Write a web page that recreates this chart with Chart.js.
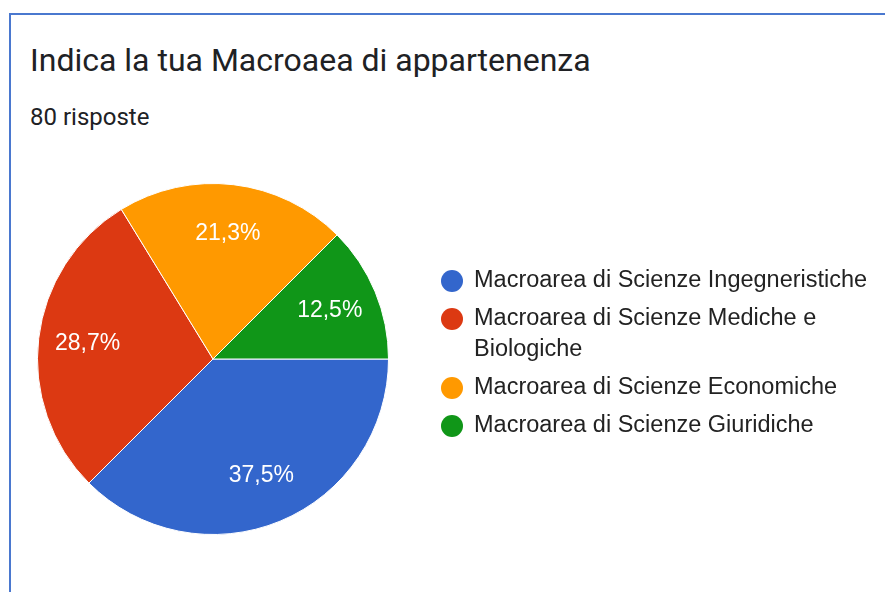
<!DOCTYPE html>
<html>
<head>
<meta charset="utf-8">
<script src="https://cdn.jsdelivr.net/npm/chart.js@4/dist/chart.umd.min.js"></script>
<style>
  body { margin: 0; background: #fff; }
  #wrap { position: relative; width: 885px; height: 592px; overflow: hidden; }
  #box { position: absolute; left: 9px; top: 13px; width: 900px; height: 600px;
         border-left: 2px solid #4a78cf; border-top: 2px solid #4a78cf; }
  #titolo { position: absolute; left: 30px; top: 41px; font: 32px Roboto, sans-serif; color: #202124; }
  #sotto { position: absolute; left: 30px; top: 103px; font: 24px Roboto, sans-serif; color: #202124; }
  canvas { position: absolute; left: 0; top: 0; }
</style>
</head>
<body>
<div id="wrap">
  <div id="box"></div>
  <div id="titolo">Indica la tua Macroaea di appartenenza</div>
  <div id="sotto">80 risposte</div>
  <canvas id="grafica" width="885" height="592"></canvas>
</div>
<script>
const macroaree = [
  "Macroarea di Scienze Ingegneristiche",
  "Macroarea di Scienze Mediche e Biologiche",
  "Macroarea di Scienze Economiche",
  "Macroarea di Scienze Giuridiche"
];
const risposte = [30, 23, 17, 10];
const colori = ["#3366cc", "#dc3912", "#ff9900", "#109618"];

// etichette percentuali dentro le fette
const etichette = {
  id: 'etichette',
  afterDatasetsDraw(chart) {
    const ctx = chart.ctx;
    const tot = risposte.reduce((a, b) => a + b, 0);
    ctx.save();
    ctx.fillStyle = '#fff';
    ctx.font = '23px "Liberation Sans", Arial, sans-serif';
    ctx.textAlign = 'center';
    ctx.textBaseline = 'middle';
    chart.getDatasetMeta(0).data.forEach((arc, i) => {
      const p = arc.getProps(['x', 'y', 'startAngle', 'endAngle', 'outerRadius']);
      const m = (p.startAngle + p.endAngle) / 2;
      const r = p.outerRadius * 0.72;
      const txt = (risposte[i] / tot * 100).toFixed(1).replace('.', ',') + '%';
      ctx.fillText(txt, p.x + Math.cos(m) * r, p.y + Math.sin(m) * r);
    });
    ctx.restore();
  }
};

// legenda a destra con testo che va a capo
const legenda = {
  id: 'legenda',
  afterDraw(chart) {
    const ctx = chart.ctx;
    const x = 452, maxW = 400;
    let y = 281;
    ctx.save();
    ctx.font = '23.5px "Liberation Sans", Arial, sans-serif';
    ctx.textBaseline = 'middle';
    chart.data.labels.forEach((lab, i) => {
      ctx.fillStyle = chart.data.datasets[0].backgroundColor[i];
      ctx.beginPath();
      ctx.arc(x, y, 11, 0, Math.PI * 2);
      ctx.fill();
      ctx.fillStyle = '#222';
      let riga = '';
      const parole = lab.split(' ');
      parole.forEach(w => {
        const prova = riga ? riga + ' ' + w : w;
        if (ctx.measureText(prova).width > maxW && riga) {
          ctx.fillText(riga, x + 22, y);
          riga = w;
          y += 31;
        } else {
          riga = prova;
        }
      });
      ctx.fillText(riga, x + 22, y);
      y += 38;
    });
    ctx.restore();
  }
};

new Chart(document.getElementById('grafica'), {
  type: 'pie',
  data: {
    labels: macroaree,
    datasets: [{
      data: risposte,
      backgroundColor: colori,
      borderColor: '#fff',
      borderWidth: 1
    }]
  },
  options: {
    responsive: false,
    animation: false,
    rotation: 90,
    layout: { padding: { left: 37, top: 183, right: 496, bottom: 57 } },
    plugins: {
      legend: { display: false },
      tooltip: { enabled: false }
    }
  },
  plugins: [etichette, legenda]
});
</script>
</body>
</html>
